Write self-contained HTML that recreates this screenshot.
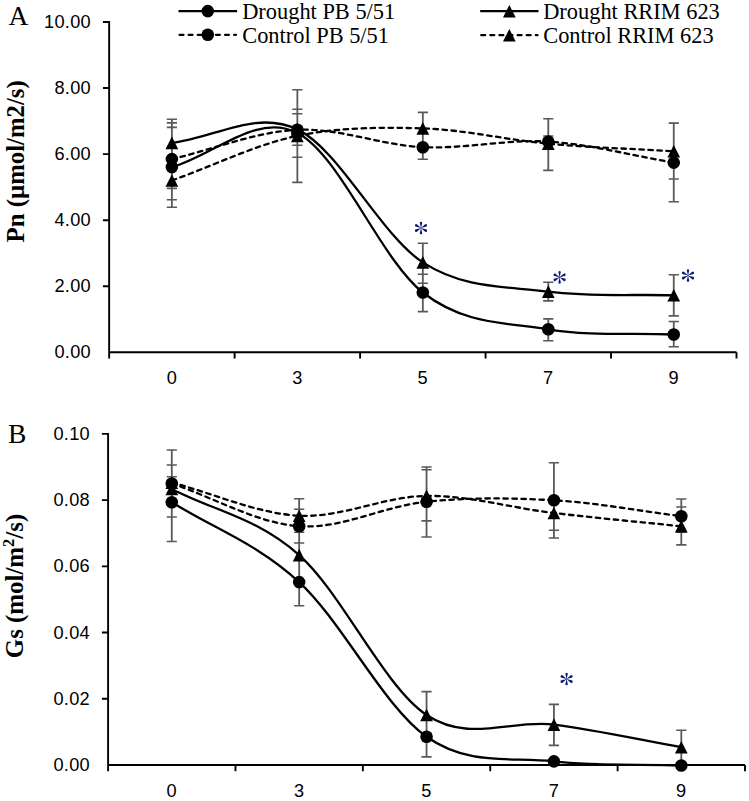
<!DOCTYPE html>
<html><head><meta charset="utf-8"><style>
html,body{margin:0;padding:0;background:#fff;}
svg{display:block;}
.tk{font-family:"Liberation Sans",sans-serif;font-size:18.2px;letter-spacing:0.3px;fill:#000;}
.lg{font-family:"Liberation Serif",serif;font-size:22.4px;fill:#000;}
.pl{font-family:"Liberation Serif",serif;font-size:27.5px;fill:#000;}
.yt{font-family:"Liberation Serif",serif;font-size:24.75px;font-weight:bold;fill:#000;}
.yt2{font-size:24.9px;}
</style></head><body>
<svg width="749" height="801" viewBox="0 0 749 801">
<rect width="749" height="801" fill="#fff"/>
<path d="M102.95,22.00H109.15V352.30H736.50M102.95,88.06H109.15M102.95,154.12H109.15M102.95,220.18H109.15M102.95,286.24H109.15M109.15,352.30V358.50M234.62,352.30V358.50M360.09,352.30V358.50M485.56,352.30V358.50M611.03,352.30V358.50M736.50,352.30V358.50" fill="none" stroke="#000" stroke-width="1.9"/>
<text x="91.00" y="28.20" text-anchor="end" class="tk">10.00</text>
<text x="91.00" y="93.80" text-anchor="end" class="tk">8.00</text>
<text x="91.00" y="159.80" text-anchor="end" class="tk">6.00</text>
<text x="91.00" y="225.80" text-anchor="end" class="tk">4.00</text>
<text x="91.00" y="291.80" text-anchor="end" class="tk">2.00</text>
<text x="91.00" y="357.80" text-anchor="end" class="tk">0.00</text>
<text x="171.88" y="384.30" text-anchor="middle" class="tk">0</text>
<text x="297.36" y="384.30" text-anchor="middle" class="tk">3</text>
<text x="422.83" y="384.30" text-anchor="middle" class="tk">5</text>
<text x="548.29" y="384.30" text-anchor="middle" class="tk">7</text>
<text x="673.76" y="384.30" text-anchor="middle" class="tk">9</text>
<path d="M171.88,119.20V207.20M297.36,89.70V182.40M422.83,112.40V159.20M422.83,243.30V311.60M548.29,118.70V170.40M548.29,282.20V300.90M548.29,318.90V340.70M673.76,123.10V201.70M673.76,274.70V315.90M673.76,321.50V346.70" stroke="#595959" stroke-width="1.8" fill="none"/>
<path d="M166.78,119.20H176.98M166.78,122.90H176.98M166.78,127.40H176.98M166.78,188.40H176.98M166.78,199.70H176.98M166.78,207.20H176.98M292.25,89.70H302.46M292.25,109.20H302.46M292.25,113.70H302.46M292.25,145.20H302.46M292.25,157.20H302.46M292.25,182.40H302.46M417.73,112.40H427.93M417.73,159.20H427.93M417.73,243.30H427.93M417.73,274.20H427.93M417.73,283.20H427.93M417.73,311.60H427.93M543.19,118.70H553.39M543.19,136.00H553.39M543.19,170.40H553.39M543.19,282.20H553.39M543.19,300.90H553.39M543.19,318.90H553.39M543.19,340.70H553.39M668.66,123.10H678.87M668.66,179.00H678.87M668.66,201.70H678.87M668.66,274.70H678.87M668.66,315.90H678.87M668.66,321.50H678.87M668.66,346.70H678.87" stroke="#595959" stroke-width="1.6" fill="none"/>
<path d="M171.88,167.10 C213.71,155.73 255.53,112.10 297.36,133.00 C339.18,153.90 381.00,259.78 422.83,292.50 C464.65,325.22 506.47,322.30 548.29,329.30 C590.12,336.30 631.94,332.77 673.76,334.50" fill="none" stroke="#000" stroke-width="2.3"/>
<path d="M171.88,142.90 C213.71,138.40 255.53,109.48 297.36,129.40 C339.18,149.32 381.00,235.37 422.83,262.40 C464.65,289.43 506.47,286.12 548.29,291.60 C590.12,297.08 631.94,294.07 673.76,295.30" fill="none" stroke="#000" stroke-width="2.3"/>
<path d="M171.88,159.10 C213.71,149.33 255.53,131.78 297.36,129.80 C339.18,127.82 381.00,145.23 422.83,147.20 C464.65,149.17 506.47,139.03 548.29,141.60 C590.12,144.17 631.94,155.60 673.76,162.60" fill="none" stroke="#000" stroke-width="2.3" stroke-dasharray="4.5,4.5" stroke-linecap="round"/>
<path d="M171.88,180.50 C213.71,165.63 255.53,144.58 297.36,135.90 C339.18,127.22 381.00,127.10 422.83,128.40 C464.65,129.70 506.47,139.88 548.29,143.70 C590.12,147.52 631.94,148.77 673.76,151.30" fill="none" stroke="#000" stroke-width="2.3" stroke-dasharray="4.5,4.5" stroke-linecap="round"/>
<g fill="#000">
<circle cx="171.88" cy="167.10" r="6.3"/>
<circle cx="297.36" cy="133.00" r="6.3"/>
<circle cx="422.83" cy="292.50" r="6.3"/>
<circle cx="548.29" cy="329.30" r="6.3"/>
<circle cx="673.76" cy="334.50" r="6.3"/>
<path d="M171.88,136.60L178.23,149.20L165.53,149.20Z"/>
<path d="M297.36,123.10L303.71,135.70L291.00,135.70Z"/>
<path d="M422.83,256.10L429.18,268.70L416.48,268.70Z"/>
<path d="M548.29,285.30L554.64,297.90L541.94,297.90Z"/>
<path d="M673.76,289.00L680.12,301.60L667.41,301.60Z"/>
<circle cx="171.88" cy="159.10" r="6.3"/>
<circle cx="297.36" cy="129.80" r="6.3"/>
<circle cx="422.83" cy="147.20" r="6.3"/>
<circle cx="548.29" cy="141.60" r="6.3"/>
<circle cx="673.76" cy="162.60" r="6.3"/>
<path d="M171.88,174.20L178.23,186.80L165.53,186.80Z"/>
<path d="M297.36,129.60L303.71,142.20L291.00,142.20Z"/>
<path d="M422.83,122.10L429.18,134.70L416.48,134.70Z"/>
<path d="M548.29,137.40L554.64,150.00L541.94,150.00Z"/>
<path d="M673.76,145.00L680.12,157.60L667.41,157.60Z"/>
</g>
<path d="M101.90,433.90H108.10V765.00H745.00M101.90,500.12H108.10M101.90,566.34H108.10M101.90,632.56H108.10M101.90,698.78H108.10M108.10,765.00V771.20M235.48,765.00V771.20M362.86,765.00V771.20M490.24,765.00V771.20M617.62,765.00V771.20M745.00,765.00V771.20" fill="none" stroke="#000" stroke-width="1.9"/>
<text x="90.00" y="439.80" text-anchor="end" class="tk">0.10</text>
<text x="90.00" y="505.80" text-anchor="end" class="tk">0.08</text>
<text x="90.00" y="571.80" text-anchor="end" class="tk">0.06</text>
<text x="90.00" y="638.60" text-anchor="end" class="tk">0.04</text>
<text x="90.00" y="705.00" text-anchor="end" class="tk">0.02</text>
<text x="90.00" y="771.00" text-anchor="end" class="tk">0.00</text>
<text x="171.79" y="797.40" text-anchor="middle" class="tk">0</text>
<text x="299.17" y="797.40" text-anchor="middle" class="tk">3</text>
<text x="426.55" y="797.40" text-anchor="middle" class="tk">5</text>
<text x="553.93" y="797.40" text-anchor="middle" class="tk">7</text>
<text x="681.31" y="797.40" text-anchor="middle" class="tk">9</text>
<path d="M171.79,450.00V541.50M299.17,498.70V605.70M426.55,467.00V537.00M426.55,691.60V756.90M553.93,462.80V538.00M553.93,704.40V745.40M681.31,499.00V544.90M681.31,730.30V760.00" stroke="#595959" stroke-width="1.8" fill="none"/>
<path d="M166.69,450.00H176.89M166.69,465.00H176.89M166.69,476.80H176.89M166.69,517.00H176.89M166.69,541.50H176.89M294.07,498.70H304.27M294.07,509.20H304.27M294.07,532.20H304.27M294.07,543.00H304.27M294.07,605.70H304.27M421.45,467.00H431.65M421.45,469.80H431.65M421.45,520.90H431.65M421.45,537.00H431.65M421.45,691.60H431.65M421.45,756.90H431.65M548.83,462.80H559.03M548.83,530.20H559.03M548.83,538.00H559.03M548.83,704.40H559.03M548.83,745.40H559.03M676.21,499.00H686.41M676.21,507.00H686.41M676.21,532.10H686.41M676.21,544.90H686.41M676.21,730.30H686.41" stroke="#595959" stroke-width="1.6" fill="none"/>
<path d="M171.79,502.20 C214.25,528.83 256.71,543.00 299.17,582.10 C341.63,621.20 384.09,706.92 426.55,736.80 C469.01,766.68 511.47,756.62 553.93,761.40 C596.39,766.18 638.85,764.13 681.31,765.50" fill="none" stroke="#000" stroke-width="2.3"/>
<path d="M171.79,488.90 C214.25,510.97 256.71,517.42 299.17,555.10 C341.63,592.78 384.09,686.75 426.55,715.00 C469.01,743.25 511.47,719.23 553.93,724.60 C596.39,729.97 638.85,739.67 681.31,747.20" fill="none" stroke="#000" stroke-width="2.3"/>
<path d="M171.79,483.50 C214.25,497.73 256.71,523.17 299.17,526.20 C341.63,529.23 384.09,506.02 426.55,501.70 C469.01,497.38 511.47,497.88 553.93,500.30 C596.39,502.72 638.85,510.90 681.31,516.20" fill="none" stroke="#000" stroke-width="2.3" stroke-dasharray="4.5,4.5" stroke-linecap="round"/>
<path d="M171.79,482.60 C214.25,493.63 256.71,513.48 299.17,515.70 C341.63,517.92 384.09,496.35 426.55,495.90 C469.01,495.45 511.47,507.93 553.93,513.00 C596.39,518.07 638.85,521.87 681.31,526.30" fill="none" stroke="#000" stroke-width="2.3" stroke-dasharray="4.5,4.5" stroke-linecap="round"/>
<g fill="#000">
<circle cx="171.79" cy="502.20" r="6.3"/>
<circle cx="299.17" cy="582.10" r="6.3"/>
<circle cx="426.55" cy="736.80" r="6.3"/>
<circle cx="553.93" cy="761.40" r="6.3"/>
<circle cx="681.31" cy="765.50" r="6.3"/>
<path d="M171.79,482.60L178.14,495.20L165.44,495.20Z"/>
<path d="M299.17,548.80L305.52,561.40L292.82,561.40Z"/>
<path d="M426.55,708.70L432.90,721.30L420.20,721.30Z"/>
<path d="M553.93,718.30L560.28,730.90L547.58,730.90Z"/>
<path d="M681.31,740.90L687.66,753.50L674.96,753.50Z"/>
<circle cx="171.79" cy="483.50" r="6.3"/>
<circle cx="299.17" cy="526.20" r="6.3"/>
<circle cx="426.55" cy="501.70" r="6.3"/>
<circle cx="553.93" cy="500.30" r="6.3"/>
<circle cx="681.31" cy="516.20" r="6.3"/>
<path d="M171.79,476.30L178.14,488.90L165.44,488.90Z"/>
<path d="M299.17,509.40L305.52,522.00L292.82,522.00Z"/>
<path d="M426.55,489.60L432.90,502.20L420.20,502.20Z"/>
<path d="M553.93,506.70L560.28,519.30L547.58,519.30Z"/>
<path d="M681.31,520.00L687.66,532.60L674.96,532.60Z"/>
</g>
<g transform="translate(421.00,228.00) scale(1.0)" fill="#0d1a70"><path d="M-0.15,-0.6 L-1.12,-4.7 A1.2,1.2 0 1 1 1.12,-4.7 L0.15,-0.6 Z" transform="rotate(0) scale(1.0)"/><path d="M-0.15,-0.6 L-1.12,-4.7 A1.2,1.2 0 1 1 1.12,-4.7 L0.15,-0.6 Z" transform="rotate(62) scale(1.06)"/><path d="M-0.15,-0.6 L-1.12,-4.7 A1.2,1.2 0 1 1 1.12,-4.7 L0.15,-0.6 Z" transform="rotate(118) scale(1.06)"/><path d="M-0.15,-0.6 L-1.12,-4.7 A1.2,1.2 0 1 1 1.12,-4.7 L0.15,-0.6 Z" transform="rotate(180) scale(1.0)"/><path d="M-0.15,-0.6 L-1.12,-4.7 A1.2,1.2 0 1 1 1.12,-4.7 L0.15,-0.6 Z" transform="rotate(242) scale(1.06)"/><path d="M-0.15,-0.6 L-1.12,-4.7 A1.2,1.2 0 1 1 1.12,-4.7 L0.15,-0.6 Z" transform="rotate(298) scale(1.06)"/><circle r="0.75"/></g>
<g transform="translate(559.60,277.30) scale(1.0)" fill="#0d1a70"><path d="M-0.15,-0.6 L-1.12,-4.7 A1.2,1.2 0 1 1 1.12,-4.7 L0.15,-0.6 Z" transform="rotate(0) scale(1.0)"/><path d="M-0.15,-0.6 L-1.12,-4.7 A1.2,1.2 0 1 1 1.12,-4.7 L0.15,-0.6 Z" transform="rotate(62) scale(1.06)"/><path d="M-0.15,-0.6 L-1.12,-4.7 A1.2,1.2 0 1 1 1.12,-4.7 L0.15,-0.6 Z" transform="rotate(118) scale(1.06)"/><path d="M-0.15,-0.6 L-1.12,-4.7 A1.2,1.2 0 1 1 1.12,-4.7 L0.15,-0.6 Z" transform="rotate(180) scale(1.0)"/><path d="M-0.15,-0.6 L-1.12,-4.7 A1.2,1.2 0 1 1 1.12,-4.7 L0.15,-0.6 Z" transform="rotate(242) scale(1.06)"/><path d="M-0.15,-0.6 L-1.12,-4.7 A1.2,1.2 0 1 1 1.12,-4.7 L0.15,-0.6 Z" transform="rotate(298) scale(1.06)"/><circle r="0.75"/></g>
<g transform="translate(688.00,275.50) scale(1.0)" fill="#0d1a70"><path d="M-0.15,-0.6 L-1.12,-4.7 A1.2,1.2 0 1 1 1.12,-4.7 L0.15,-0.6 Z" transform="rotate(0) scale(1.0)"/><path d="M-0.15,-0.6 L-1.12,-4.7 A1.2,1.2 0 1 1 1.12,-4.7 L0.15,-0.6 Z" transform="rotate(62) scale(1.06)"/><path d="M-0.15,-0.6 L-1.12,-4.7 A1.2,1.2 0 1 1 1.12,-4.7 L0.15,-0.6 Z" transform="rotate(118) scale(1.06)"/><path d="M-0.15,-0.6 L-1.12,-4.7 A1.2,1.2 0 1 1 1.12,-4.7 L0.15,-0.6 Z" transform="rotate(180) scale(1.0)"/><path d="M-0.15,-0.6 L-1.12,-4.7 A1.2,1.2 0 1 1 1.12,-4.7 L0.15,-0.6 Z" transform="rotate(242) scale(1.06)"/><path d="M-0.15,-0.6 L-1.12,-4.7 A1.2,1.2 0 1 1 1.12,-4.7 L0.15,-0.6 Z" transform="rotate(298) scale(1.06)"/><circle r="0.75"/></g>
<g transform="translate(566.60,679.00) scale(1.0)" fill="#0d1a70"><path d="M-0.15,-0.6 L-1.12,-4.7 A1.2,1.2 0 1 1 1.12,-4.7 L0.15,-0.6 Z" transform="rotate(0) scale(1.0)"/><path d="M-0.15,-0.6 L-1.12,-4.7 A1.2,1.2 0 1 1 1.12,-4.7 L0.15,-0.6 Z" transform="rotate(62) scale(1.06)"/><path d="M-0.15,-0.6 L-1.12,-4.7 A1.2,1.2 0 1 1 1.12,-4.7 L0.15,-0.6 Z" transform="rotate(118) scale(1.06)"/><path d="M-0.15,-0.6 L-1.12,-4.7 A1.2,1.2 0 1 1 1.12,-4.7 L0.15,-0.6 Z" transform="rotate(180) scale(1.0)"/><path d="M-0.15,-0.6 L-1.12,-4.7 A1.2,1.2 0 1 1 1.12,-4.7 L0.15,-0.6 Z" transform="rotate(242) scale(1.06)"/><path d="M-0.15,-0.6 L-1.12,-4.7 A1.2,1.2 0 1 1 1.12,-4.7 L0.15,-0.6 Z" transform="rotate(298) scale(1.06)"/><circle r="0.75"/></g>
<path d="M178.5,11.1H237.1" stroke="#000" stroke-width="2.2"/>
<g fill="#000">
<circle cx="207.80" cy="11.10" r="6.3"/>
</g>
<text transform="translate(242.2,18.7) scale(1,1.05)" class="lg">Drought PB 5/51</text>
<path d="M179.55,34.8H236.04999999999998" stroke="#000" stroke-width="2.3" stroke-dasharray="3.9,5.2" stroke-linecap="round"/>
<g fill="#000">
<circle cx="207.80" cy="34.80" r="6.3"/>
</g>
<text transform="translate(242.2,42.5) scale(1,1.05)" class="lg">Control PB 5/51</text>
<path d="M480.2,11.2H538.5" stroke="#000" stroke-width="2.2"/>
<g fill="#000">
<path d="M509.35,4.90L515.70,17.50L503.00,17.50Z"/>
</g>
<text transform="translate(543.2,18.7) scale(1,1.05)" class="lg">Drought RRIM 623</text>
<path d="M481.25,35.2H537.45" stroke="#000" stroke-width="2.3" stroke-dasharray="3.9,5.2" stroke-linecap="round"/>
<g fill="#000">
<path d="M509.35,28.90L515.70,41.50L503.00,41.50Z"/>
</g>
<text transform="translate(543.2,42.5) scale(1,1.05)" class="lg">Control RRIM 623</text>
<text x="8.6" y="25.1" class="pl">A</text>
<text x="8.0" y="443.0" class="pl">B</text>
<text transform="translate(24,161.4) rotate(-90)" text-anchor="middle" class="yt">Pn (µmol/m2/s)</text>
<text transform="translate(22.9,586) rotate(-90)" text-anchor="middle" class="yt yt2">Gs (mol/m<tspan dy="-9" font-size="16.5">2</tspan><tspan dy="9">/s)</tspan></text>
</svg>
</body></html>
